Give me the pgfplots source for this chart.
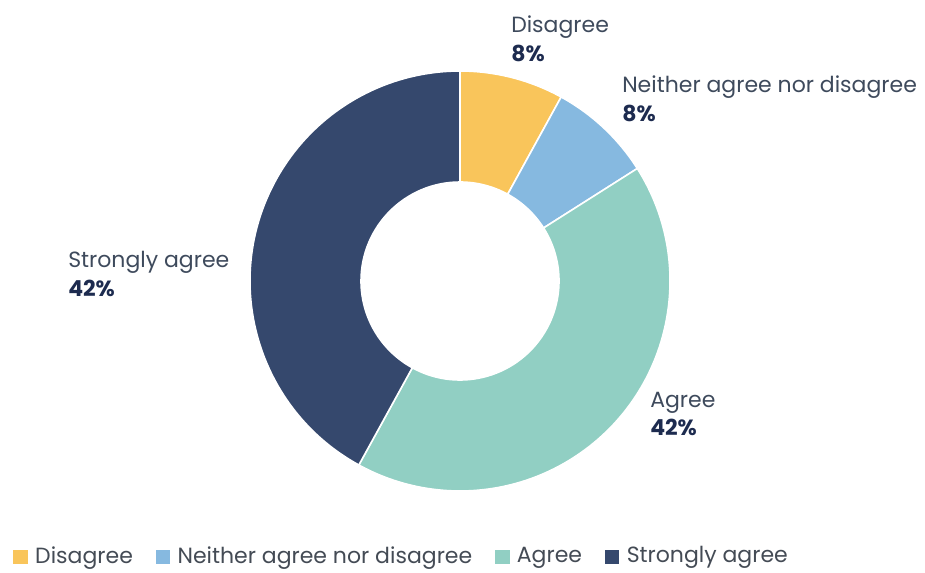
\documentclass[border=0pt]{standalone}
\usepackage{pgfplots}
\pgfplotsset{compat=1.18}
\usepackage{pgfplotstable}
\usepackage{fontspec}
\setmainfont{Poppins}

\definecolor{c0}{HTML}{F9C55B}
\definecolor{c1}{HTML}{86B9E0}
\definecolor{c2}{HTML}{91CFC3}
\definecolor{c3}{HTML}{35486D}
\definecolor{labelgray}{HTML}{3E4A5C}
\definecolor{pctnavy}{HTML}{1D2B4F}
\definecolor{leggray}{HTML}{444B55}

% share of answers, in %
\pgfplotstableread[col sep=comma]{
label,value
Disagree,8
Neither agree nor disagree,8
Agree,42
Strongly agree,42
}\answers

% start and end angles of each slice, clockwise from the top
\def\cum{0}
\pgfplotsforeachungrouped \i in {0,...,3}{%
  \pgfplotstablegetelem{\i}{value}\of\answers
  \pgfmathsetmacro\sa{90-3.6*\cum}%
  \pgfmathsetmacro\ea{90-3.6*(\cum+\pgfplotsretval)}%
  \expandafter\xdef\csname sa\i\endcsname{\sa}%
  \expandafter\xdef\csname ea\i\endcsname{\ea}%
  \pgfmathsetmacro\cum{\cum+\pgfplotsretval}%
  \xdef\cum{\cum}%
}

\def\Rout{157.5pt}
\def\Rin{74.25pt}

\begin{document}
\begin{tikzpicture}
\begin{axis}[
    x=0.75pt, y=0.75pt,
    xmin=0, xmax=925, ymin=0, ymax=572,
    scale only axis,
    hide axis,
    clip=false,
    legend columns=-1,
    legend style={at={(0.014,0.007)}, anchor=south west, draw=none, fill=none,
        font=\fontsize{16.5}{18}\selectfont\color{leggray},
        inner sep=0pt,
        /tikz/every odd column/.append style={column sep=3.5pt},
        /tikz/every even column/.append style={column sep=15pt}},
    legend image code/.code={\fill[#1, draw=none] (0pt,-6.5pt) rectangle (11pt,4pt);},
]
\draw[draw=none] (axis cs:0,0) rectangle (axis cs:925,572);

\pgfplotsinvokeforeach{0,...,3}{
  \fill[c#1, draw=white, line width=1.2pt]
    ([shift={(\csname sa#1\endcsname:\Rout)}]axis cs:460,291)
    arc[start angle=\csname sa#1\endcsname, end angle=\csname ea#1\endcsname, radius=\Rout]
    -- ([shift={(\csname ea#1\endcsname:\Rin)}]axis cs:460,291)
    arc[start angle=\csname ea#1\endcsname, end angle=\csname sa#1\endcsname, radius=\Rin]
    -- cycle;
}

\addlegendimage{fill=c0, draw=none, mark=none}\addlegendentry{Disagree}
\addlegendimage{fill=c1, draw=none, mark=none}\addlegendentry{Neither agree nor disagree}
\addlegendimage{fill=c2, draw=none, mark=none}\addlegendentry{Agree}
\addlegendimage{fill=c3, draw=none, mark=none}\addlegendentry{Strongly agree}

\tikzset{lab/.style={anchor=base west, inner sep=0pt, text=labelgray,
      font=\fontsize{16.5}{18}\selectfont},
    pct/.style={anchor=base west, inner sep=0pt, text=pctnavy,
      font=\fontsize{16.5}{18}\selectfont\bfseries}}
\node[lab] at (axis cs:511,539) {Disagree};
\node[pct] at (axis cs:511,510) {8\%};
\node[lab] at (axis cs:622,479) {Neither agree nor disagree};
\node[pct] at (axis cs:622,450) {8\%};
\node[lab] at (axis cs:68,304) {Strongly agree};
\node[pct] at (axis cs:68,275) {42\%};
\node[lab] at (axis cs:650,165) {Agree};
\node[pct] at (axis cs:650,137) {42\%};
\end{axis}
\end{tikzpicture}
\end{document}
